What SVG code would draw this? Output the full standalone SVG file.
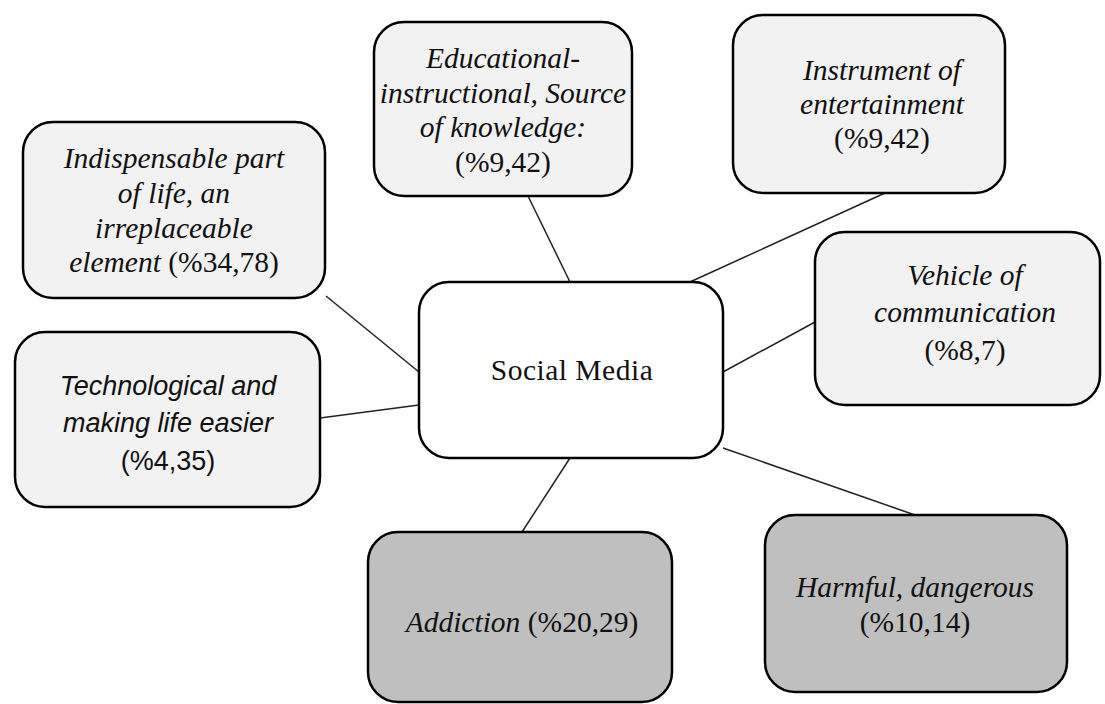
<svg xmlns="http://www.w3.org/2000/svg" width="1105" height="704" viewBox="0 0 1105 704">
<style>
.box{stroke:#000;stroke-width:2.5;}
.lt{fill:#f2f2f2;}
.dk{fill:#bfbfbf;}
.wh{fill:#fff;}
.t{font-family:"Liberation Serif","Times New Roman",serif;font-size:29.5px;fill:#111;text-anchor:middle;}
.s{font-family:"Liberation Sans",Arial,sans-serif;font-size:27px;fill:#111;text-anchor:middle;}
.i{font-style:italic;}
.c{stroke:#222;stroke-width:1.5;fill:none;}
</style>
<g id="connectors">
<line class="c" x1="326" y1="296" x2="419" y2="372"/>
<line class="c" x1="320" y1="418" x2="419" y2="405"/>
<line class="c" x1="528" y1="196" x2="570" y2="282"/>
<line class="c" x1="885" y1="193" x2="690" y2="282"/>
<line class="c" x1="815" y1="322" x2="723" y2="372"/>
<line class="c" x1="723" y1="448" x2="915" y2="515"/>
<line class="c" x1="570" y1="458" x2="522" y2="532"/>
</g>
<g id="center">
<rect class="box wh" x="419" y="282" width="304" height="176" rx="30"/>
<text class="t" x="572" y="380" font-size="31" letter-spacing="0.5">Social Media</text>
</g>
<g id="indispensable">
<rect class="box lt" x="23" y="122" width="302" height="176" rx="30"/>
<text class="t"><tspan class="i" x="174" y="168">Indispensable part</tspan><tspan class="i" x="174" y="203">of life, an</tspan><tspan class="i" x="174" y="238">irreplaceable</tspan><tspan x="174" y="272"><tspan class="i">element</tspan> (%34,78)</tspan></text>
</g>
<g id="educational">
<rect class="box lt" x="374" y="22" width="258" height="174" rx="30"/>
<text class="t"><tspan class="i" x="503" y="68">Educational-</tspan><tspan class="i" x="503" y="103">instructional, Source</tspan><tspan class="i" x="503" y="137">of knowledge:</tspan><tspan x="503" y="172">(%9,42)</tspan></text>
</g>
<g id="instrument">
<rect class="box lt" x="733" y="15" width="272" height="178" rx="30"/>
<text class="t"><tspan class="i" x="882" y="80">Instrument of</tspan><tspan class="i" x="882" y="114">entertainment</tspan><tspan x="882" y="148">(%9,42)</tspan></text>
</g>
<g id="technological">
<rect class="box lt" x="15" y="332" width="305" height="175" rx="30"/>
<text class="s"><tspan class="i" x="168" y="395">Technological and</tspan><tspan class="i" x="168" y="432">making life easier</tspan><tspan x="168" y="470">(%4,35)</tspan></text>
</g>
<g id="vehicle">
<rect class="box lt" x="815" y="232" width="285" height="173" rx="30"/>
<text class="t"><tspan class="i" x="965" y="285">Vehicle of</tspan><tspan class="i" x="965" y="322">communication</tspan><tspan x="965" y="360">(%8,7)</tspan></text>
</g>
<g id="addiction">
<rect class="box dk" x="368" y="532" width="304" height="170" rx="30"/>
<text class="t" x="522" y="632"><tspan class="i">Addiction</tspan> (%20,29)</text>
</g>
<g id="harmful">
<rect class="box dk" x="765" y="515" width="302" height="177" rx="30"/>
<text class="t"><tspan class="i" x="915" y="597">Harmful, dangerous</tspan><tspan x="915" y="632">(%10,14)</tspan></text>
</g>
</svg>
